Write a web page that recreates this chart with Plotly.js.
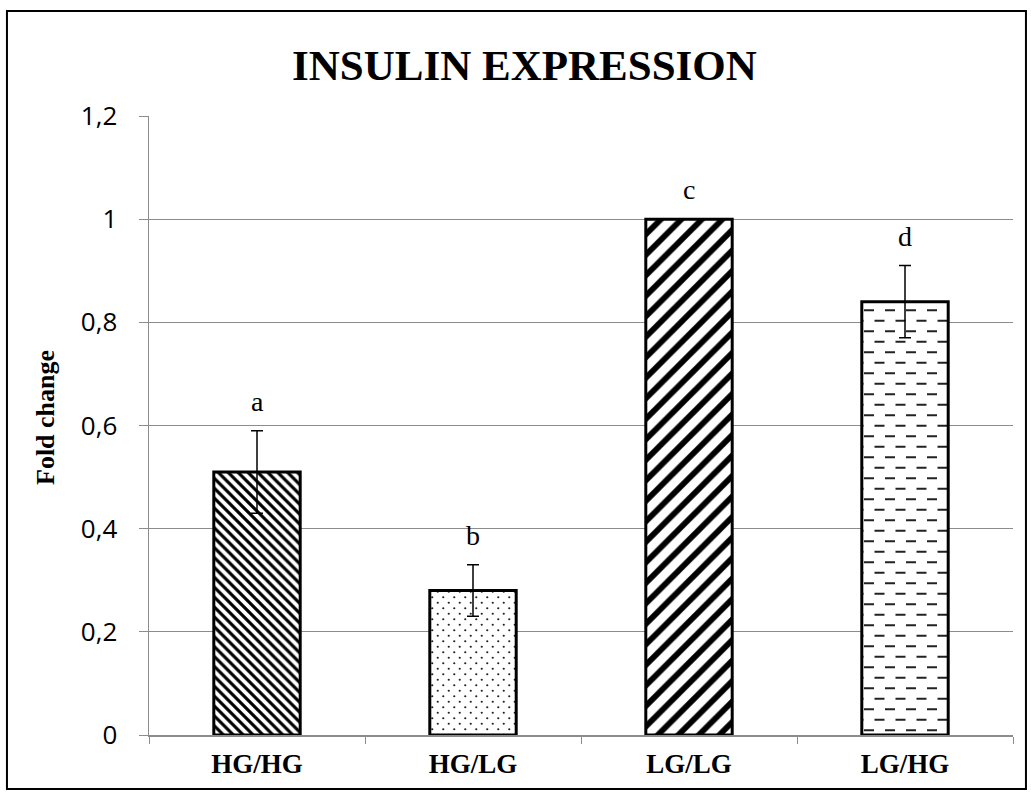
<!DOCTYPE html>
<html>
<head>
<meta charset="utf-8">
<script src="https://cdn.plot.ly/plotly-3.0.1.min.js"></script>
<style>
  html, body { margin: 0; padding: 0; background: #ffffff; }
  #chart { width: 1031px; height: 792px; }
</style>
</head>
<body>
<div id="chart"></div>
<script>
// Insulin expression per culture condition (fold change, mean ± SD)
const groups = ['HG/HG', 'HG/LG', 'LG/LG', 'LG/HG'];
const foldChange = [0.51, 0.28, 1.0, 0.84];
const errorSD = [0.08, 0.05, 0, 0.07];
const sigLetters = ['a', 'b', 'c', 'd'];
const yTicks = [0, 0.2, 0.4, 0.6, 0.8, 1, 1.2];

const serif = '"Liberation Serif", "Times New Roman", serif';
const sans = '"Open Sans", "Noto Sans", sans-serif';
const gridGrey = '#8c8c8c';

const trace = {
  type: 'bar',
  x: groups,
  y: foldChange,
  width: 0.4,
  marker: {
    color: '#ffffff',
    line: { color: '#000000', width: 3 },
    pattern: {
      shape: ['\\', '.', '/', '-'],
      size: [7, 7.8, 14.5, 10.5],
      solidity: [0.45, 0.06, 0.4, 0.18],
      fgcolor: '#000000',
      bgcolor: '#ffffff',
      fgopacity: 1,
      fillmode: 'replace'
    }
  },
  error_y: {
    type: 'data',
    array: errorSD,
    visible: true,
    color: '#000000',
    thickness: 1.5,
    width: 6
  },
  hoverinfo: 'x+y'
};

const letterNotes = groups.map((g, i) => ({
  x: g,
  y: foldChange[i] + errorSD[i],
  xref: 'x',
  yref: 'y',
  text: sigLetters[i],
  showarrow: false,
  yanchor: 'bottom',
  yshift: 12,
  font: { family: serif, size: 28, color: '#000000' }
}));

const yTitleNote = {
  xref: 'paper',
  yref: 'paper',
  x: -0.1204,
  y: 0.5137,
  xanchor: 'center',
  yanchor: 'middle',
  textangle: -90,
  showarrow: false,
  text: '<b>Fold change</b>',
  font: { family: serif, size: 26, color: '#000000' }
};

const layout = {
  width: 1031,
  height: 792,
  autosize: false,
  margin: { l: 149, r: 18, t: 116, b: 57 },
  paper_bgcolor: '#ffffff',
  plot_bgcolor: '#ffffff',
  separators: ',.',
  showlegend: false,
  bargap: 0.6,
  title: {
    text: '<b>INSULIN EXPRESSION</b>',
    font: { family: serif, size: 43, color: '#000000' },
    x: 0.5087,
    xref: 'container',
    xanchor: 'center',
    y: 0.918,
    yref: 'container',
    yanchor: 'middle'
  },
  xaxis: {
    type: 'category',
    showline: true,
    linecolor: gridGrey,
    linewidth: 1.5,
    ticks: 'outside',
    tickson: 'boundaries',
    ticklen: 7,
    tickcolor: gridGrey,
    showgrid: false,
    ticklabelstandoff: 4,
    tickfont: { family: serif, size: 27, color: '#000000' },
    tickprefix: '<b>',
    ticksuffix: '</b>',
    fixedrange: true
  },
  yaxis: {
    range: [0, 1.2],
    tickvals: yTicks,
    showline: true,
    linecolor: gridGrey,
    linewidth: 1.5,
    ticks: 'outside',
    ticklen: 9,
    tickcolor: gridGrey,
    showgrid: true,
    gridcolor: gridGrey,
    gridwidth: 1,
    zeroline: false,
    ticklabelstandoff: 16,
    tickfont: { family: sans, size: 26, color: '#000000' },
    fixedrange: true
  },
  annotations: letterNotes.concat([yTitleNote]),
  shapes: [{
    type: 'rect',
    xref: 'paper',
    yref: 'paper',
    x0: -0.1644,
    x1: 1.0150,
    y0: -0.0872,
    y1: 1.1696,
    line: { color: '#000000', width: 2 },
    fillcolor: 'rgba(0,0,0,0)',
    layer: 'above'
  }]
};

const NS = 'http://www.w3.org/2000/svg';

function svgEl(tag, attrs) {
  const el = document.createElementNS(NS, tag);
  Object.keys(attrs).forEach(k => el.setAttribute(k, attrs[k]));
  return el;
}

// Rebuild a fill tile with custom content
function retile(pat, w, h, items) {
  pat.setAttribute('width', w);
  pat.setAttribute('height', h);
  while (pat.firstChild) pat.removeChild(pat.firstChild);
  pat.appendChild(svgEl('rect', { x: 0, y: 0, width: w, height: h, fill: '#ffffff' }));
  items.forEach(it => pat.appendChild(it));
}

// Staggered dots for the second bar, staggered short dashes for the fourth
function refinePatterns(gd) {
  const bars = gd.querySelectorAll('.bars .point path');
  bars.forEach((bar, i) => {
    const fill = bar.style.fill || bar.getAttribute('fill') || '';
    const m = fill.match(/#([^"')\s]+)/);
    if (!m) return;
    const pat = document.getElementById(m[1]);
    if (!pat) return;
    if (i === 1) {
      retile(pat, 11, 11, [
        svgEl('circle', { cx: 2.75, cy: 2.75, r: 1.1, fill: '#222222' }),
        svgEl('circle', { cx: 8.25, cy: 8.25, r: 1.1, fill: '#222222' })
      ]);
    } else if (i === 3) {
      retile(pat, 21, 21, [
        svgEl('path', {
          d: 'M1,5.25H11M11.5,15.75H21.5M-9.5,15.75H0.5',
          stroke: '#222222',
          'stroke-width': 2.2,
          fill: 'none'
        })
      ]);
    }
  });
}

Plotly.newPlot('chart', [trace], layout, { displayModeBar: false, staticPlot: true })
  .then(gd => refinePatterns(gd));
</script>
</body>
</html>
